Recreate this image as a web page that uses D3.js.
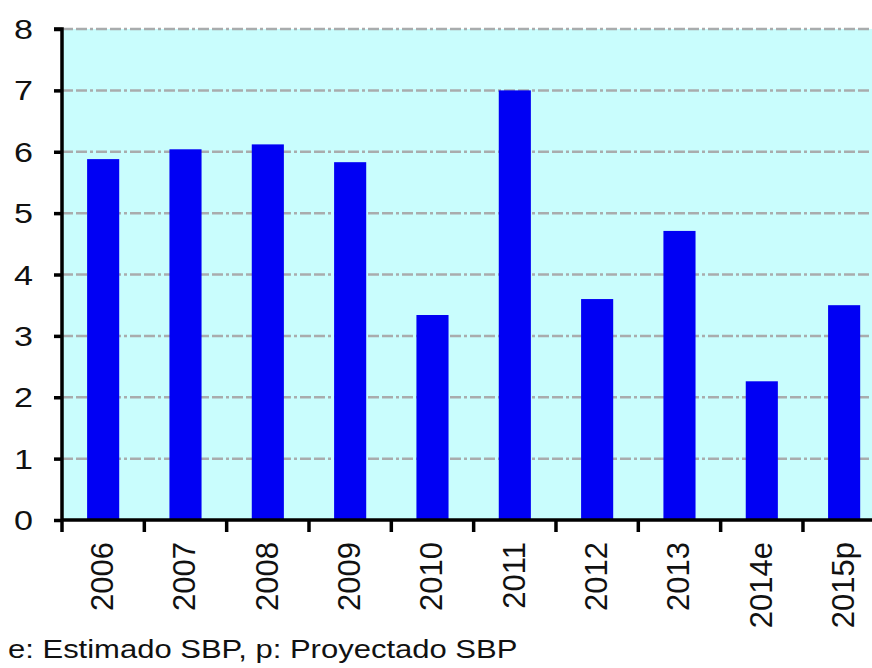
<!DOCTYPE html>
<html>
<head>
<meta charset="utf-8">
<script src="https://cdn.jsdelivr.net/npm/d3@7"></script>
<style>
  html, body { margin: 0; padding: 0; background: #ffffff; }
  svg { display: block; }
  text { font-family: "Liberation Sans", Arial, sans-serif; fill: #111; }
</style>
</head>
<body>
<svg id="chart" width="872" height="668"></svg>
<script>
// Annual values by year (e: estimated, p: projected)
const years = ["2006", "2007", "2008", "2009", "2010", "2011", "2012", "2013", "2014e", "2015p"];
const values = [5.88, 6.04, 6.12, 5.83, 3.34, 7.0, 3.6, 4.71, 2.26, 3.5];
const yTicks = [0, 1, 2, 3, 4, 5, 6, 7, 8];
const footnote = "e: Estimado SBP, p: Proyectado SBP";

const svg = d3.select("#chart");
const plotLeft = 62, plotTop = 29, plotBottom = 520;
const bandStep = 82.33;
const plotRight = plotLeft + bandStep * years.length;

const x = d3.scaleBand().domain(years).range([plotLeft, plotRight]).paddingInner(0.61).paddingOuter(0.305);
const y = d3.scaleLinear().domain([0, 8]).range([plotBottom, plotTop]);

// plot background
svg.append("rect")
  .attr("x", plotLeft).attr("y", y(8))
  .attr("width", 872 - plotLeft).attr("height", y(0) - y(8))
  .attr("fill", "#c9fdfd");

// dashed horizontal gridlines
svg.append("g")
  .selectAll("line")
  .data(yTicks.filter(d => d > 0))
  .join("line")
  .attr("x1", plotLeft).attr("x2", 872)
  .attr("y1", d => y(d)).attr("y2", d => y(d))
  .attr("stroke", "#a9acad")
  .attr("stroke-width", 2.5)
  .attr("stroke-dasharray", "11,3,11,3,3,3");

// bars
svg.append("g")
  .selectAll("rect")
  .data(years.map((c, i) => ({ c, v: values[i] })))
  .join("rect")
  .attr("x", d => x(d.c))
  .attr("width", x.bandwidth())
  .attr("y", d => y(d.v))
  .attr("height", d => y(0) - y(d.v))
  .attr("fill", "#0000f4");

// y axis: line and outward ticks from the axis generator, labels set separately
const yAxis = svg.append("g")
  .attr("transform", `translate(${plotLeft},0)`)
  .call(d3.axisLeft(y).tickValues(yTicks).tickSize(8).tickFormat(""));
yAxis.select(".domain").attr("stroke", "#000").attr("stroke-width", 3.5)
  .attr("d", `M-8,${y(8)}H0V${y(0)}`);
yAxis.selectAll(".tick line").attr("stroke", "#000").attr("stroke-width", 3.5);

svg.append("g")
  .selectAll("text")
  .data(yTicks)
  .join("text")
  .attr("transform", d => `translate(33,${y(d)}) scale(1.22,1)`)
  .attr("text-anchor", "end")
  .attr("dy", "0.36em")
  .attr("font-size", 28)
  .text(d => d);

// x axis with ticks at band boundaries
const xAxisG = svg.append("g").attr("transform", `translate(0,${plotBottom})`);
xAxisG.append("line")
  .attr("x1", plotLeft - 1).attr("x2", 872)
  .attr("stroke", "#000").attr("stroke-width", 3.5);
xAxisG.selectAll("line.tk")
  .data(years)
  .join("line")
  .attr("class", "tk")
  .attr("x1", (d, i) => plotLeft + bandStep * i)
  .attr("x2", (d, i) => plotLeft + bandStep * i)
  .attr("y1", 0).attr("y2", 12)
  .attr("stroke", "#000").attr("stroke-width", 3.5);
xAxisG.selectAll("text")
  .data(years)
  .join("text")
  .attr("transform", d => `translate(${x(d) + x.bandwidth() / 2 + 10},${22}) rotate(-90)`)
  .attr("text-anchor", "end")
  .attr("font-size", 31)
  .text(d => d);

// footnote
svg.append("text")
  .attr("transform", "translate(8,658) scale(1.17,1)")
  .attr("font-size", 26.5)
  .text(footnote);
</script>
</body>
</html>
